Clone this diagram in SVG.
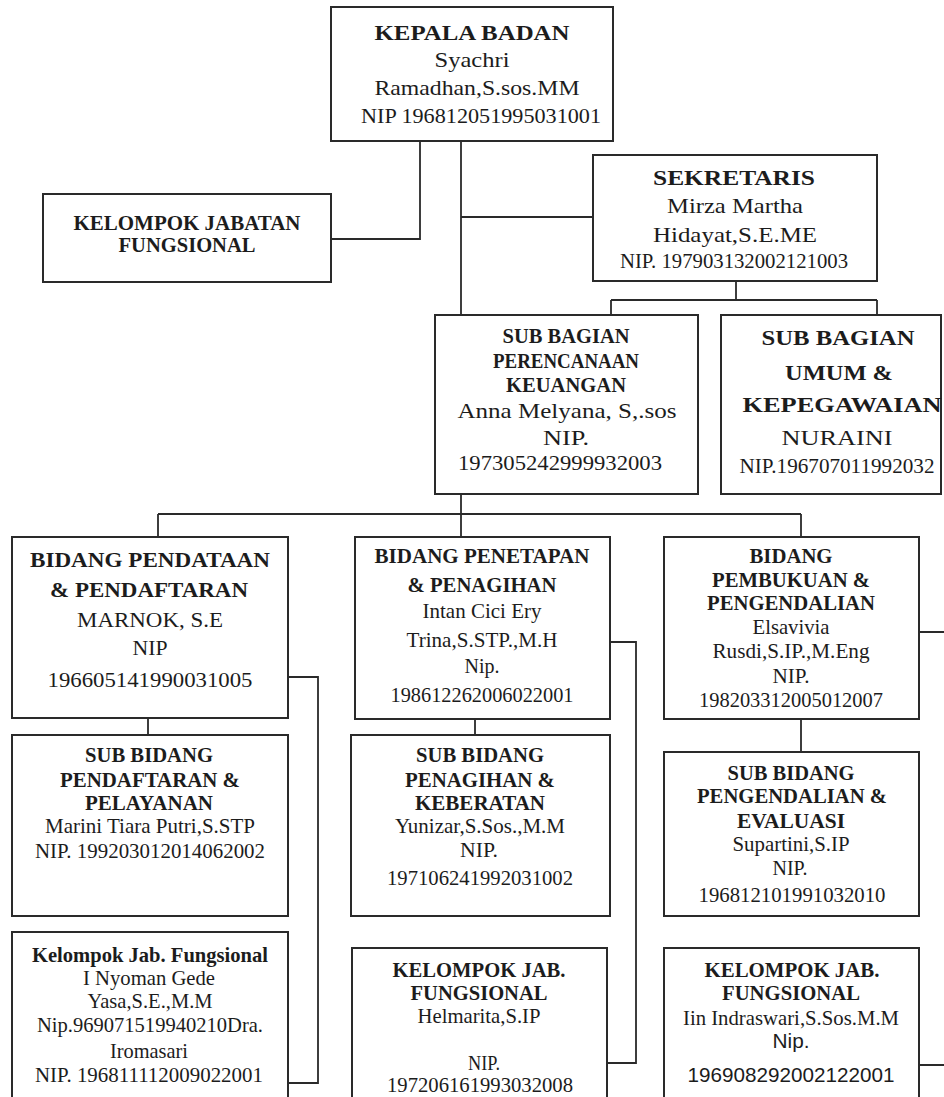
<svg xmlns="http://www.w3.org/2000/svg" width="944" height="1097" viewBox="0 0 944 1097">
<style>
.box{fill:#fff;stroke:#2a2a2a;stroke-width:2}
.con{fill:none;stroke:#2a2a2a;stroke-width:1.8}
text{font-family:"Liberation Serif","Times New Roman",serif;text-anchor:middle;fill:#1c1c1c;font-size:21px}
.b{font-weight:bold}
.s{font-family:"Liberation Sans",Arial,sans-serif}
</style>
<rect width="944" height="1097" fill="#fff"/>
<g id="connectors">
<path class="con" d="M420,141V239H331"/>
<path class="con" d="M461,141V315"/>
<path class="con" d="M461,217H593"/>
<path class="con" d="M736,281V300M611,300H877M611,300V315M877,300V315"/>
<path class="con" d="M461,494V514M158,514H801M158,514V537M461,514V537M801,514V537"/>
<path class="con" d="M148,718V735M288,677H318V1083H288"/>
<path class="con" d="M475,719V735M610,642H636V1063H607"/>
<path class="con" d="M801,719V752M919,632H946M919,1065H946"/>
</g>
<g id="kepala">
<rect class="box" x="331" y="7" width="282" height="134"/>
<text class="b" x="472" y="40" font-size="23" textLength="195" lengthAdjust="spacingAndGlyphs">KEPALA BADAN</text>
<text x="472" y="67" font-size="24" textLength="75" lengthAdjust="spacingAndGlyphs">Syachri</text>
<text x="477" y="95" font-size="24" textLength="205" lengthAdjust="spacingAndGlyphs">Ramadhan,S.sos.MM</text>
<text x="481" y="123" font-size="22" textLength="240" lengthAdjust="spacingAndGlyphs">NIP 196812051995031001</text>
</g>
<g id="kelompok-jabatan">
<rect class="box" x="43" y="194" width="288" height="88"/>
<text class="b" x="187" y="230" textLength="227" lengthAdjust="spacingAndGlyphs">KELOMPOK JABATAN</text>
<text class="b" x="187" y="252" textLength="137" lengthAdjust="spacingAndGlyphs">FUNGSIONAL</text>
</g>
<g id="sekretaris">
<rect class="box" x="593" y="155" width="284" height="126"/>
<text class="b" x="734" y="185" font-size="25" textLength="162" lengthAdjust="spacingAndGlyphs">SEKRETARIS</text>
<text x="735" y="213" font-size="24.5" textLength="136" lengthAdjust="spacingAndGlyphs">Mirza Martha</text>
<text x="735" y="242" font-size="24.5" textLength="164" lengthAdjust="spacingAndGlyphs">Hidayat,S.E.ME</text>
<text x="734" y="268" textLength="228" lengthAdjust="spacingAndGlyphs">NIP. 197903132002121003</text>
</g>
<g id="perencanaan">
<rect class="box" x="435" y="315" width="263" height="179"/>
<text class="b" x="566" y="343" font-size="20" textLength="127" lengthAdjust="spacingAndGlyphs">SUB BAGIAN</text>
<text class="b" x="566" y="368" font-size="20" textLength="146" lengthAdjust="spacingAndGlyphs">PERENCANAAN</text>
<text class="b" x="566" y="392" font-size="20" textLength="120" lengthAdjust="spacingAndGlyphs">KEUANGAN</text>
<text x="567" y="418" font-size="25" textLength="219" lengthAdjust="spacingAndGlyphs">Anna Melyana, S,.sos</text>
<text x="566" y="445" font-size="25" textLength="46" lengthAdjust="spacingAndGlyphs">NIP.</text>
<text x="560" y="470" font-size="22" textLength="204" lengthAdjust="spacingAndGlyphs">197305242999932003</text>
</g>
<g id="umum">
<rect class="box" x="721" y="315" width="220" height="179"/>
<text class="b" x="838" y="345" font-size="25" textLength="153" lengthAdjust="spacingAndGlyphs">SUB BAGIAN</text>
<text class="b" x="839" y="380" font-size="25" textLength="108" lengthAdjust="spacingAndGlyphs">UMUM &amp;</text>
<text class="b" x="842" y="412" font-size="25" textLength="199" lengthAdjust="spacingAndGlyphs">KEPEGAWAIAN</text>
<text x="837" y="445" font-size="26" textLength="111" lengthAdjust="spacingAndGlyphs">NURAINI</text>
<text x="837" y="473" textLength="195" lengthAdjust="spacingAndGlyphs">NIP.196707011992032</text>
</g>
<g id="bidang-pendataan">
<rect class="box" x="12" y="537" width="276" height="181"/>
<text class="b" x="150" y="567" font-size="23" textLength="240" lengthAdjust="spacingAndGlyphs">BIDANG PENDATAAN</text>
<text class="b" x="149" y="597" font-size="23" textLength="198" lengthAdjust="spacingAndGlyphs">&amp; PENDAFTARAN</text>
<text x="150" y="627" font-size="23" textLength="146" lengthAdjust="spacingAndGlyphs">MARNOK, S.E</text>
<text x="150" y="655" font-size="22" textLength="35" lengthAdjust="spacingAndGlyphs">NIP</text>
<text x="150" y="687" font-size="23" textLength="205" lengthAdjust="spacingAndGlyphs">196605141990031005</text>
</g>
<g id="bidang-penetapan">
<rect class="box" x="355" y="537" width="255" height="182"/>
<text class="b" x="482" y="563" textLength="215" lengthAdjust="spacingAndGlyphs">BIDANG PENETAPAN</text>
<text class="b" x="482" y="592" textLength="149" lengthAdjust="spacingAndGlyphs">&amp; PENAGIHAN</text>
<text x="482" y="618" textLength="119" lengthAdjust="spacingAndGlyphs">Intan Cici Ery</text>
<text x="482" y="647" textLength="151" lengthAdjust="spacingAndGlyphs">Trina,S.STP.,M.H</text>
<text x="482" y="673" textLength="35" lengthAdjust="spacingAndGlyphs">Nip.</text>
<text x="482" y="702" textLength="183" lengthAdjust="spacingAndGlyphs">198612262006022001</text>
</g>
<g id="bidang-pembukuan">
<rect class="box" x="664" y="537" width="255" height="182"/>
<text class="b" x="791" y="563" textLength="83" lengthAdjust="spacingAndGlyphs">BIDANG</text>
<text class="b" x="791" y="587" textLength="158" lengthAdjust="spacingAndGlyphs">PEMBUKUAN &amp;</text>
<text class="b" x="791" y="610" textLength="168" lengthAdjust="spacingAndGlyphs">PENGENDALIAN</text>
<text x="791" y="634" textLength="77" lengthAdjust="spacingAndGlyphs">Elsavivia</text>
<text x="791" y="658" textLength="157" lengthAdjust="spacingAndGlyphs">Rusdi,S.IP.,M.Eng</text>
<text x="791" y="683" textLength="37" lengthAdjust="spacingAndGlyphs">NIP.</text>
<text x="791" y="707" textLength="184" lengthAdjust="spacingAndGlyphs">198203312005012007</text>
</g>
<g id="sub-pendaftaran">
<rect class="box" x="12" y="735" width="276" height="181"/>
<text class="b" x="149" y="762" textLength="128" lengthAdjust="spacingAndGlyphs">SUB BIDANG</text>
<text class="b" x="150" y="787" textLength="180" lengthAdjust="spacingAndGlyphs">PENDAFTARAN &amp;</text>
<text class="b" x="149" y="810" textLength="128" lengthAdjust="spacingAndGlyphs">PELAYANAN</text>
<text x="150" y="833" textLength="210" lengthAdjust="spacingAndGlyphs">Marini Tiara Putri,S.STP</text>
<text x="150" y="858" textLength="230" lengthAdjust="spacingAndGlyphs">NIP. 199203012014062002</text>
</g>
<g id="sub-penagihan">
<rect class="box" x="351" y="735" width="259" height="181"/>
<text class="b" x="480" y="762" textLength="128" lengthAdjust="spacingAndGlyphs">SUB BIDANG</text>
<text class="b" x="480" y="787" textLength="150" lengthAdjust="spacingAndGlyphs">PENAGIHAN &amp;</text>
<text class="b" x="480" y="810" textLength="130" lengthAdjust="spacingAndGlyphs">KEBERATAN</text>
<text x="480" y="833" textLength="170" lengthAdjust="spacingAndGlyphs">Yunizar,S.Sos.,M.M</text>
<text x="479" y="857" textLength="38" lengthAdjust="spacingAndGlyphs">NIP.</text>
<text x="480" y="885" textLength="186" lengthAdjust="spacingAndGlyphs">197106241992031002</text>
</g>
<g id="sub-pengendalian">
<rect class="box" x="664" y="752" width="255" height="164"/>
<text class="b" x="791" y="780" textLength="127" lengthAdjust="spacingAndGlyphs">SUB BIDANG</text>
<text class="b" x="792" y="803" textLength="190" lengthAdjust="spacingAndGlyphs">PENGENDALIAN &amp;</text>
<text class="b" x="791" y="828" textLength="108" lengthAdjust="spacingAndGlyphs">EVALUASI</text>
<text x="791" y="851" textLength="117" lengthAdjust="spacingAndGlyphs">Supartini,S.IP</text>
<text x="790" y="875" font-size="20" textLength="35" lengthAdjust="spacingAndGlyphs">NIP.</text>
<text x="792" y="902" textLength="187" lengthAdjust="spacingAndGlyphs">196812101991032010</text>
</g>
<g id="kelompok-1">
<rect class="box" x="12" y="932" width="276" height="175"/>
<text class="b" x="150" y="962" textLength="236" lengthAdjust="spacingAndGlyphs">Kelompok Jab. Fungsional</text>
<text x="149" y="985" textLength="132" lengthAdjust="spacingAndGlyphs">I Nyoman Gede</text>
<text x="150" y="1008" textLength="125" lengthAdjust="spacingAndGlyphs">Yasa,S.E.,M.M</text>
<text x="150" y="1032" textLength="226" lengthAdjust="spacingAndGlyphs">Nip.969071519940210Dra.</text>
<text x="149" y="1058" textLength="78" lengthAdjust="spacingAndGlyphs">Iromasari</text>
<text x="149" y="1082" textLength="228" lengthAdjust="spacingAndGlyphs">NIP. 196811112009022001</text>
</g>
<g id="kelompok-2">
<rect class="box" x="352" y="948" width="255" height="160"/>
<text class="b" x="479" y="977" textLength="173" lengthAdjust="spacingAndGlyphs">KELOMPOK JAB.</text>
<text class="b" x="479" y="1000" textLength="137" lengthAdjust="spacingAndGlyphs">FUNGSIONAL</text>
<text x="479" y="1023" textLength="123" lengthAdjust="spacingAndGlyphs">Helmarita,S.IP</text>
<text x="484" y="1070" textLength="32" lengthAdjust="spacingAndGlyphs">NIP.</text>
<text x="480" y="1092" textLength="186" lengthAdjust="spacingAndGlyphs">197206161993032008</text>
</g>
<g id="kelompok-3">
<rect class="box" x="664" y="948" width="255" height="160"/>
<text class="b" x="792" y="977" textLength="175" lengthAdjust="spacingAndGlyphs">KELOMPOK JAB.</text>
<text class="b" x="791" y="1000" textLength="138" lengthAdjust="spacingAndGlyphs">FUNGSIONAL</text>
<text x="791" y="1025" textLength="216" lengthAdjust="spacingAndGlyphs">Iin Indraswari,S.Sos.M.M</text>
<text class="s" x="791" y="1048" font-size="20" textLength="37" lengthAdjust="spacingAndGlyphs">Nip.</text>
<text class="s" x="791" y="1082" font-size="20" textLength="207" lengthAdjust="spacingAndGlyphs">196908292002122001</text>
</g>
</svg>
